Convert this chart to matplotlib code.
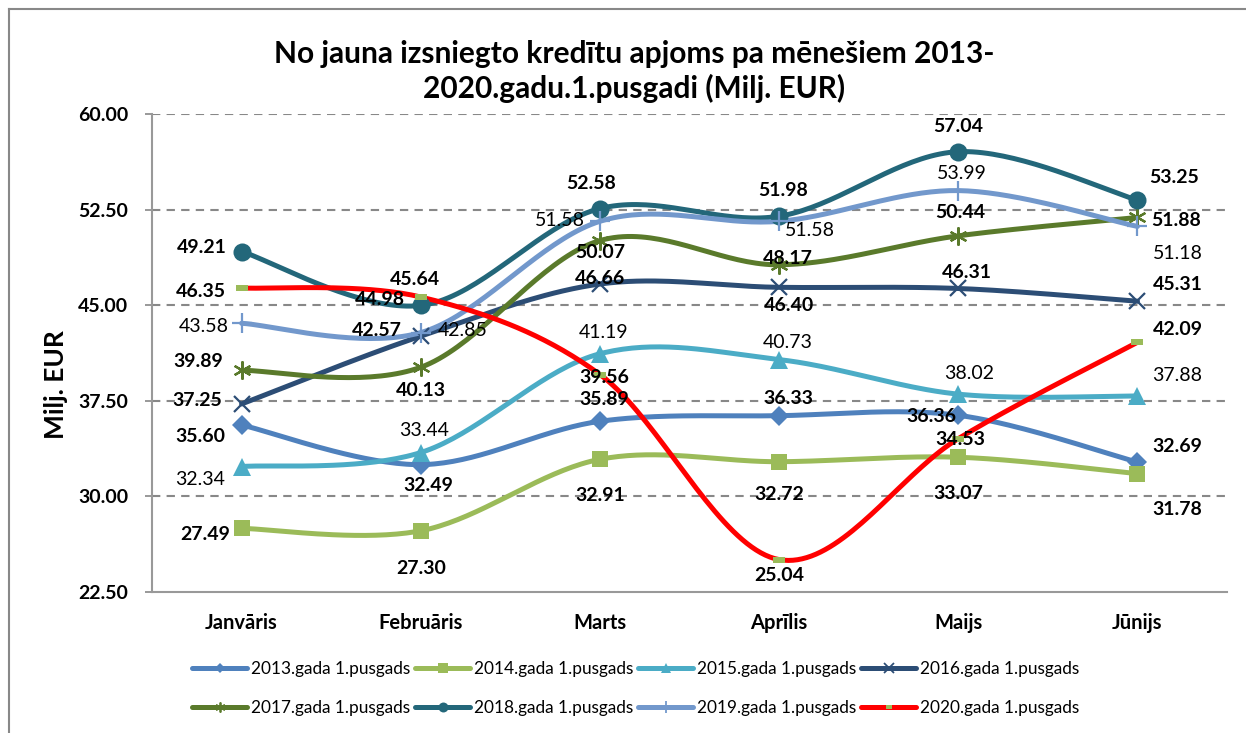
import matplotlib
matplotlib.use("Agg")
import matplotlib.pyplot as plt
import numpy as np
from matplotlib.path import Path
from matplotlib.lines import Line2D

plt.rcParams['font.family'] = ['Lato', 'DejaVu Sans']

months = ["Janvāris", "Februāris", "Marts", "Aprīlis", "Maijs", "Jūnijs"]
series_names = ["2013.gada 1.pusgads", "2014.gada 1.pusgads", "2015.gada 1.pusgads",
                "2016.gada 1.pusgads", "2017.gada 1.pusgads", "2018.gada 1.pusgads",
                "2019.gada 1.pusgads", "2020.gada 1.pusgads"]
v2013 = [35.60, 32.49, 35.89, 36.33, 36.36, 32.69]
v2014 = [27.49, 27.30, 32.91, 32.72, 33.07, 31.78]
v2015 = [32.34, 33.44, 41.19, 40.73, 38.02, 37.88]
v2016 = [37.25, 42.57, 46.66, 46.40, 46.31, 45.31]
v2017 = [39.89, 40.13, 50.07, 48.17, 50.44, 51.88]
v2018 = [49.21, 44.98, 52.58, 51.98, 57.04, 53.25]
v2019 = [43.58, 42.85, 51.58, 51.58, 53.99, 51.18]
v2020 = [46.35, 45.64, 39.56, 25.04, 34.53, 42.09]
y_ticks = [22.50, 30.00, 37.50, 45.00, 52.50, 60.00]

all_values = [v2013, v2014, v2015, v2016, v2017, v2018, v2019, v2020]

# styles: colour, marker, marker size, marker colour, bold labels
rect = Path([(-1, -0.55), (1, -0.55), (1, 0.55), (-1, 0.55), (-1, -0.55)],
            [Path.MOVETO, Path.LINETO, Path.LINETO, Path.LINETO, Path.CLOSEPOLY])
styles = [
    ("#4F81BD", "D", 10, "#4F81BD", True),
    ("#9BBB59", "s", 12, "#9BBB59", True),
    ("#4BACC6", "^", 13, "#4BACC6", False),
    ("#2C4D75", "x", 12, "#2C4D75", True),
    ("#5A7A2B", (6, 2, 0), 13, "#5A7A2B", True),
    ("#23677A", "o", 13, "#23677A", True),
    ("#7298CC", "+", 15, "#7298CC", False),
    ("#FF0000", rect, 9, "#9BBB59", True),
]

# label offsets in pixels (dx right, dy down)
offsets = [
    [(-41, 12), (8, 21), (4, -22), (9, -17), (-27, 1), (40, -16)],
    [(-36, 6), (0, 38), (0, 36), (0, 33), (0, 36), (40, 36)],
    [(-42, 13), (3, -22), (4, -21), (9, -17), (11, -21), (40, -20)],
    [(-44, -3), (-44, -6), (0, -6), (10, 18), (9, -16), (40, -17)],
    [(-43, -9), (0, 23), (0, 12), (9, -6), (2, -23), (39, 3)],
    [(-40, -4), (-41, -6), (-9, -25), (4, -26), (0, -25), (37, -23)],
    [(-38, 3), (42, -2), (-40, -1), (31, 9), (4, -17), (40, 27)],
    [(-41, 4), (-6, -18), (4, 3), (0, 16), (2, 1), (40, -13)],
]


def smooth(y, n=40):
    # Catmull-Rom style bezier smoothing like spreadsheet "smoothed line"
    x = np.arange(len(y), dtype=float)
    y = np.asarray(y, dtype=float)
    px = np.concatenate([[x[0]], x, [x[-1]]])
    py = np.concatenate([[y[0]], y, [y[-1]]])
    xs, ys = [], []
    t = np.linspace(0, 1, n)
    for i in range(len(y) - 1):
        p0 = np.array([px[i + 1], py[i + 1]])
        p3 = np.array([px[i + 2], py[i + 2]])
        c1 = p0 + (np.array([px[i + 2], py[i + 2]]) - np.array([px[i], py[i]])) / 6
        c2 = p3 - (np.array([px[i + 3], py[i + 3]]) - np.array([px[i + 1], py[i + 1]])) / 6
        b = ((1 - t) ** 3)[:, None] * p0 + (3 * (1 - t) ** 2 * t)[:, None] * c1 \
            + (3 * (1 - t) * t ** 2)[:, None] * c2 + (t ** 3)[:, None] * p3
        xs.append(b[:, 0])
        ys.append(b[:, 1])
    return np.concatenate(xs), np.concatenate(ys)


fig = plt.figure(figsize=(12.46, 7.33), dpi=100)
ax = fig.add_axes([0.122, 0.1924, 0.8628, 0.6521])

x = np.arange(len(months))
handles = []
for vals, name, st, offs in zip(all_values, series_names, styles, offsets):
    color, marker, ms, mcolor, bold = st
    sx, sy = smooth(vals)
    ax.plot(sx, sy, color=color, lw=3.6, solid_capstyle='round', zorder=3)
    mew = 1.6 if marker in ("x", "+") or isinstance(marker, tuple) else 0
    ax.plot(x, vals, linestyle='none', marker=marker, markersize=ms,
            color=mcolor, markeredgecolor=mcolor, markeredgewidth=mew, zorder=4)
    for xi, v, (dx, dy) in zip(x, vals, offs):
        ax.annotate(f"{v:.2f}", (xi, v), xytext=(dx, -dy), textcoords='offset pixels',
                    ha='center', va='center', fontsize=14,
                    fontweight='bold' if bold else 'normal', color='black', zorder=6)
    handles.append(Line2D([0], [0], color=color, lw=3.6, marker=marker,
                          markersize=ms * 0.55, markerfacecolor=mcolor,
                          markeredgecolor=mcolor, markeredgewidth=mew * 0.8,
                          solid_capstyle='round'))

ax.set_xlim(-0.5, 5.5)
ax.set_ylim(22.5, 60)
ax.set_yticks(y_ticks)
ax.set_yticklabels([f"{t:.2f}" for t in y_ticks], fontsize=14, fontweight='bold')
ax.set_xticks(x)
ax.set_xticklabels(months, fontsize=14.5, fontweight='bold')
ax.tick_params(axis='x', length=0, pad=15)
ax.tick_params(axis='y', length=5, width=1.2, color='#888888', pad=12, direction='out')
for t in y_ticks[1:]:
    ax.axhline(t, color='#888888', lw=1.5, ls=(0, (4, 3)), zorder=1)
for s in ['top', 'right']:
    ax.spines[s].set_visible(False)
for s in ['left', 'bottom']:
    ax.spines[s].set_color('#999999')
    ax.spines[s].set_linewidth(1.5)

fig.text(0.045, 0.475, "Milj. EUR", rotation=90, ha='center', va='center',
         fontsize=19, fontweight='bold')
fig.text(0.509, 0.902, "No jauna izsniegto kredītu apjoms pa mēnešiem 2013-\n2020.gadu.1.pusgadi (Milj. EUR)",
         ha='center', va='center', fontsize=21.5, fontweight='bold', linespacing=1.25)

order = [0, 4, 1, 5, 2, 6, 3, 7]
fig.legend([handles[i] for i in order], [series_names[i] for i in order],
           ncol=4, loc='center', bbox_to_anchor=(0.51, 0.061), frameon=False,
           fontsize=12.4, handlelength=3.2, columnspacing=0.3, handletextpad=0.2,
           labelspacing=1.35)

# outer chart frame (only left and top visible in the crop)
fig.add_artist(Line2D([0.0072, 0.0072], [0, 0.988], color='#888888', lw=1.5))
fig.add_artist(Line2D([0.0072, 1.0], [0.988, 0.988], color='#888888', lw=1.5))

fig.savefig("out.png", dpi=100)
